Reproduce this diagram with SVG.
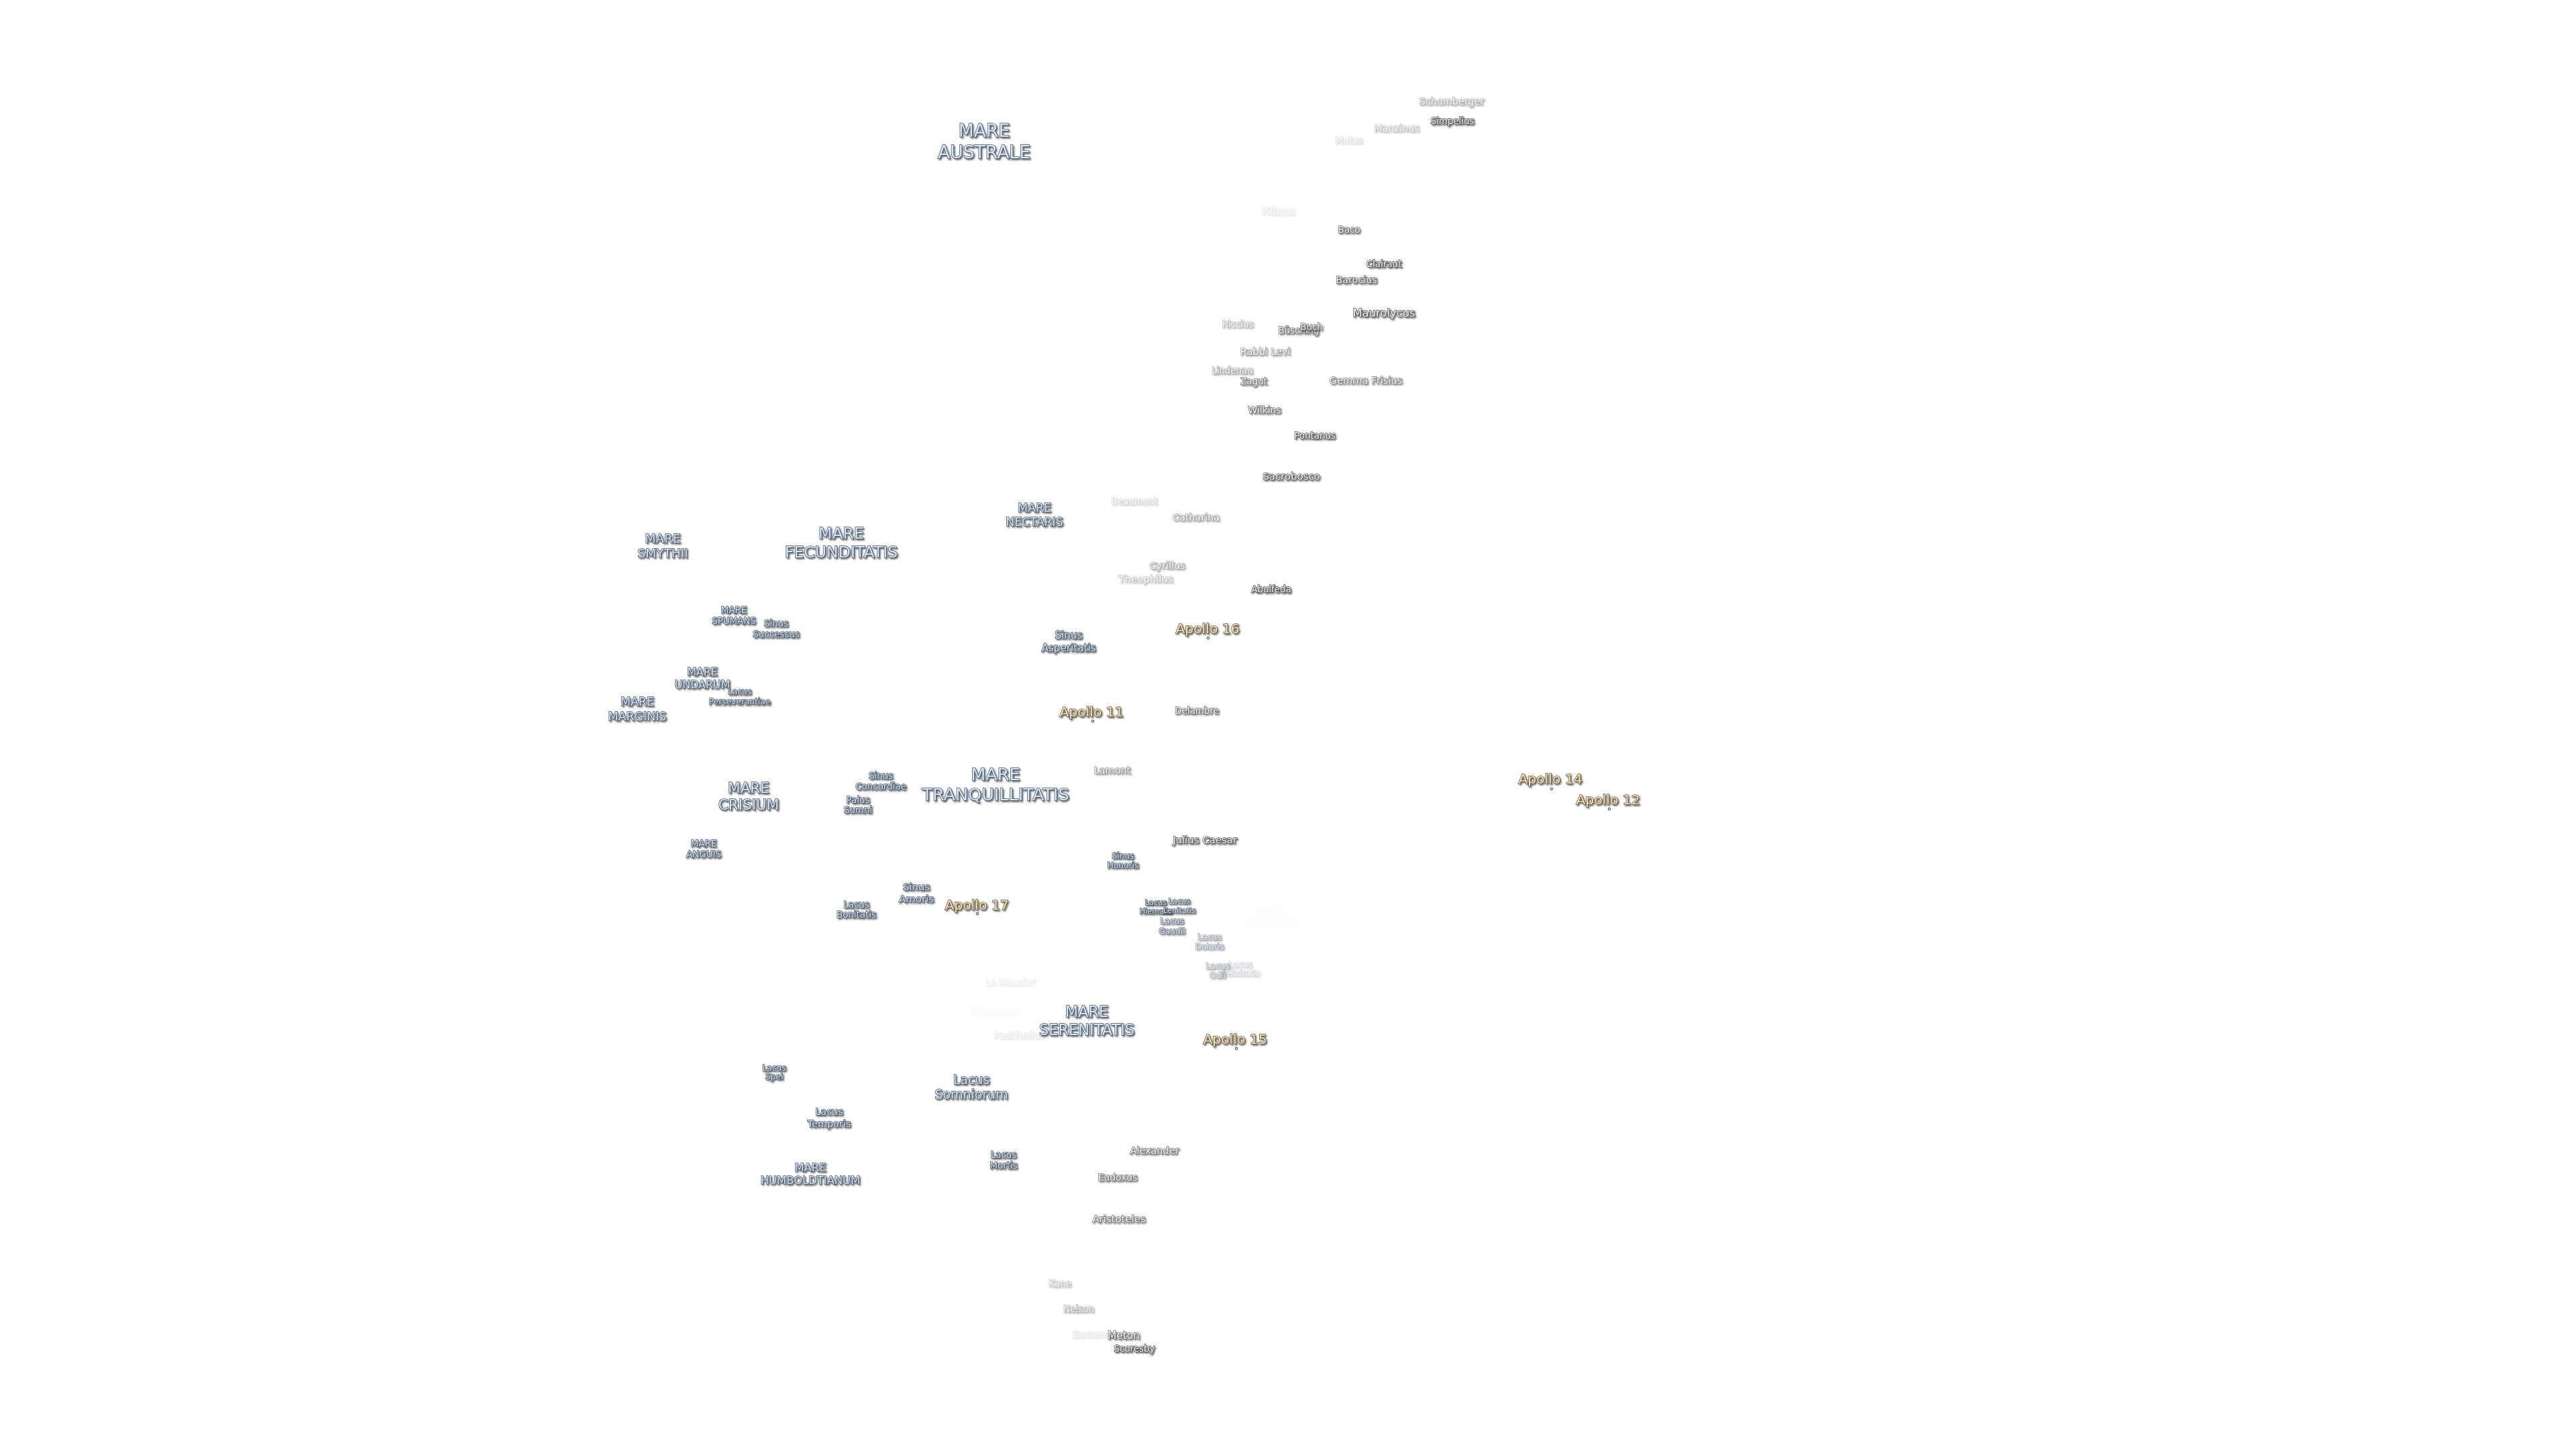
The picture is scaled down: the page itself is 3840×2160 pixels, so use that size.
<svg xmlns="http://www.w3.org/2000/svg" width="3840" height="2160" viewBox="0 0 3840 2160">
<style>
text{font-family:"DejaVu Sans","Liberation Sans",sans-serif;text-anchor:middle;paint-order:stroke;stroke-width:1.5;stroke-linejoin:miter;filter:url(#sh)}
.m{fill:#d2e8fe;stroke:#47505c}
.c{fill:#fff;stroke:#484848}
.a{fill:#ffe5b2;stroke:#575040}
.d{fill:#ffe3ad;stroke:#444;stroke-width:1}
</style>
<defs><filter id="sh" x="-15%" y="-15%" width="130%" height="140%"><feGaussianBlur in="SourceGraphic" stdDeviation="0.45" result="b"/><feDropShadow in="b" dx="1.8" dy="2" stdDeviation="1" flood-color="#2a2a2a" flood-opacity="0.7"/></filter></defs>
<rect width="3840" height="2160" fill="#fff"/>
<g transform="translate(0,-1)">
<g id="craters">
<g id="schomberger"><text class="c" x="2164" y="157" font-size="14.4" opacity="0.48">Schomberger</text></g>
<g id="simpelius"><text class="c" x="2165" y="186" font-size="13.4">Simpelius</text></g>
<g id="manzinus"><text class="c" x="2082" y="197" font-size="14.4" opacity="0.35">Manzinus</text></g>
<g id="mutus"><text class="c" x="2011" y="215" font-size="13.4" opacity="0.18">Mutus</text></g>
<g id="pitiscus"><text class="c" x="1906" y="321" font-size="13.4" opacity="0.13">Pitiscus</text></g>
<g id="baco"><text class="c" x="2011" y="348" font-size="13.4" opacity="0.88">Baco</text></g>
<g id="clairaut"><text class="c" x="2063" y="399" font-size="13.4">Clairaut</text></g>
<g id="barocius"><text class="c" x="2022" y="423" font-size="14.4" opacity="0.92">Barocius</text></g>
<g id="maurolycus"><text class="c" x="2063" y="473" font-size="16.4">Maurolycus</text></g>
<g id="riccius"><text class="c" x="1845" y="489" font-size="13.4" opacity="0.4">Riccius</text></g>
<g id="busching"><text class="c" x="1936" y="498" font-size="13.4" opacity="0.8">Büsching</text></g>
<g id="buch"><text class="c" x="1955" y="493" font-size="13.4" opacity="0.8">Buch</text></g>
<g id="rabbi-levi"><text class="c" x="1886" y="530" font-size="14.4" opacity="0.57">Rabbi Levi</text></g>
<g id="lindenau"><text class="c" x="1837" y="558" font-size="13.4" opacity="0.5">Lindenau</text></g>
<g id="zagut"><text class="c" x="1869" y="574" font-size="13.4" opacity="0.78">Zagut</text></g>
<g id="gemma-frisius"><text class="c" x="2036" y="573" font-size="14.7" opacity="0.72">Gemma Frisius</text></g>
<g id="wilkins"><text class="c" x="1885" y="617" font-size="13.9" opacity="0.82">Wilkins</text></g>
<g id="pontanus"><text class="c" x="1960" y="655" font-size="13.4" opacity="0.97">Pontanus</text></g>
<g id="sacrobosco"><text class="c" x="1925" y="716" font-size="14.9" opacity="0.97">Sacrobosco</text></g>
<g id="beaumont"><text class="c" x="1691" y="753" font-size="13.4" opacity="0.23">Beaumont</text></g>
<g id="catharina"><text class="c" x="1783" y="777" font-size="14.4" opacity="0.52">Catharina</text></g>
<g id="cyrillus"><text class="c" x="1740" y="849" font-size="14.4" opacity="0.52">Cyrillus</text></g>
<g id="theophilus"><text class="c" x="1708" y="869" font-size="14.9" opacity="0.35">Theophilus</text></g>
<g id="abulfeda"><text class="c" x="1895" y="884" font-size="13.4">Abulfeda</text></g>
<g id="delambre"><text class="c" x="1784" y="1065" font-size="13.4" opacity="0.82">Delambre</text></g>
<g id="lamont"><text class="c" x="1658" y="1154" font-size="14.4" opacity="0.62">Lamont</text></g>
<g id="julius-caesar"><text class="c" x="1796" y="1258" font-size="14.9" opacity="0.97">Julius Caesar</text></g>
<g id="le-monnier"><text class="c" x="1506" y="1470" font-size="13.4" opacity="0.1">Le Monnier</text></g>
<g id="chacornac"><text class="c" x="1483" y="1513" font-size="13.4" opacity="0.03">Chacornac</text></g>
<g id="posidonius"><text class="c" x="1519" y="1549" font-size="14.4" opacity="0.13">Posidonius</text></g>
<g id="alexander"><text class="c" x="1721" y="1721" font-size="14.4" opacity="0.78">Alexander</text></g>
<g id="eudoxus"><text class="c" x="1666" y="1761" font-size="13.9" opacity="0.82">Eudoxus</text></g>
<g id="aristoteles"><text class="c" x="1668" y="1823" font-size="14.9" opacity="0.78">Aristoteles</text></g>
<g id="kane"><text class="c" x="1580" y="1919" font-size="13.4" opacity="0.35">Kane</text></g>
<g id="nelson"><text class="c" x="1608" y="1957" font-size="13.4" opacity="0.46">Nelson</text></g>
<g id="euctemon"><text class="c" x="1632" y="1995" font-size="13.4" opacity="0.14">Euctemon</text></g>
<g id="meton"><text class="c" x="1675" y="1997" font-size="15.4" opacity="0.86">Meton</text></g>
<g id="scoresby"><text class="c" x="1691" y="2016" font-size="13.4">Scoresby</text></g>
</g>
<g id="maria">
<g id="mare-australe"><text class="m" font-size="26.6"><tspan x="1467" y="205">MARE</tspan><tspan x="1467" y="237">AUSTRALE</tspan></text></g>
<g id="mare-smythii"><text class="m" font-size="18.5"><tspan x="988" y="810">MARE</tspan><tspan x="988" y="832">SMYTHII</tspan></text></g>
<g id="mare-fecunditatis"><text class="m" font-size="23.6"><tspan x="1254" y="804">MARE</tspan><tspan x="1254" y="832">FECUNDITATIS</tspan></text></g>
<g id="mare-nectaris"><text class="m" font-size="17.4"><tspan x="1542" y="764">MARE</tspan><tspan x="1542" y="785">NECTARIS</tspan></text></g>
<g id="mare-spumans"><text class="m" font-size="13.4"><tspan x="1094" y="915">MARE</tspan><tspan x="1094" y="931">SPUMANS</tspan></text></g>
<g id="sinus-successus"><text class="m" font-size="13.4"><tspan x="1157" y="935">Sinus</tspan><tspan x="1157" y="951">Successus</tspan></text></g>
<g id="mare-undarum"><text class="m" font-size="15.9"><tspan x="1047" y="1008">MARE</tspan><tspan x="1047" y="1027">UNDARUM</tspan></text></g>
<g id="lacus-perseverantiae"><text class="m" font-size="12.2"><tspan x="1102.5" y="1036">Lacus</tspan><tspan x="1102.5" y="1051">Perseverantiae</tspan></text></g>
<g id="mare-marginis"><text class="m" font-size="17.4"><tspan x="950" y="1053">MARE</tspan><tspan x="950" y="1075">MARGINIS</tspan></text></g>
<g id="sinus-asperitatis"><text class="m" font-size="15.2"><tspan x="1593" y="953">Sinus</tspan><tspan x="1593" y="972">Asperitatis</tspan></text></g>
<g id="mare-tranquillitatis"><text class="m" font-size="25.5"><tspan x="1484" y="1164">MARE</tspan><tspan x="1484" y="1194">TRANQUILLITATIS</tspan></text></g>
<g id="mare-crisium"><text class="m" font-size="21.5"><tspan x="1116" y="1183">MARE</tspan><tspan x="1116" y="1208">CRISIUM</tspan></text></g>
<g id="sinus-concordiae"><text class="m" font-size="13.4"><tspan x="1313" y="1162">Sinus</tspan><tspan x="1313" y="1178">Concordiae</tspan></text></g>
<g id="palus-somni"><text class="m" font-size="13.4"><tspan x="1279" y="1198">Palus</tspan><tspan x="1279" y="1213">Somni</tspan></text></g>
<g id="mare-anguis"><text class="m" font-size="13.4"><tspan x="1049" y="1263">MARE</tspan><tspan x="1049" y="1279">ANGUIS</tspan></text></g>
<g id="lacus-bonitatis"><text class="m" font-size="13.4"><tspan x="1276.5" y="1354">Lacus</tspan><tspan x="1276.5" y="1369">Bonitatis</tspan></text></g>
<g id="sinus-amoris"><text class="m" font-size="14.9"><tspan x="1366" y="1328">Sinus</tspan><tspan x="1366" y="1346">Amoris</tspan></text></g>
<g id="sinus-honoris"><text class="m" font-size="12.2"><tspan x="1674" y="1281">Sinus</tspan><tspan x="1674" y="1295">Honoris</tspan></text></g>
<g id="lacus-hiemalis"><text class="m" font-size="11.3"><tspan x="1723" y="1350">Lacus</tspan><tspan x="1723" y="1363">Hiemalis</tspan></text></g>
<g id="lacus-lenitatis"><text class="m" font-size="11.3" opacity="0.88"><tspan x="1758" y="1348">Lacus</tspan><tspan x="1758" y="1362">Lenitatis</tspan></text></g>
<g id="lacus-gaudii"><text class="m" font-size="12.3" opacity="0.76"><tspan x="1747" y="1378">Lacus</tspan><tspan x="1747" y="1393">Gaudii</tspan></text></g>
<g id="lacus-doloris"><text class="m" font-size="12.3" opacity="0.52"><tspan x="1803" y="1402">Lacus</tspan><tspan x="1803" y="1416">Doloris</tspan></text></g>
<g id="lacus-felicitatis"><text class="m" font-size="12.3" opacity="0.23"><tspan x="1849" y="1443">Lacus</tspan><tspan x="1849" y="1456">Felicitatis</tspan></text></g>
<g id="lacus-odii"><text class="m" font-size="12.3" opacity="0.46"><tspan x="1815" y="1445">Lacus</tspan><tspan x="1815" y="1459">Odii</tspan></text></g>
<g id="mare-vaporum"><text class="m" font-size="15.4" opacity="0.012"><tspan x="1892" y="1363">MARE</tspan><tspan x="1892" y="1382">VAPORUM</tspan></text></g>
<g id="mare-serenitatis"><text class="m" font-size="22.5"><tspan x="1620" y="1517">MARE</tspan><tspan x="1620" y="1544">SERENITATIS</tspan></text></g>
<g id="lacus-somniorum"><text class="m" font-size="18.9"><tspan x="1448" y="1617">Lacus</tspan><tspan x="1448" y="1639">Somniorum</tspan></text></g>
<g id="lacus-spei"><text class="m" font-size="12.3"><tspan x="1154" y="1597">Lacus</tspan><tspan x="1154" y="1610">Spei</tspan></text></g>
<g id="lacus-temporis"><text class="m" font-size="14.4"><tspan x="1236" y="1663">Lacus</tspan><tspan x="1236" y="1681">Temporis</tspan></text></g>
<g id="mare-humboldtianum"><text class="m" font-size="16.4"><tspan x="1208" y="1747">MARE</tspan><tspan x="1208" y="1766">HUMBOLDTIANUM</tspan></text></g>
<g id="lacus-mortis"><text class="m" font-size="13.4"><tspan x="1496" y="1727">Lacus</tspan><tspan x="1496" y="1743">Mortis</tspan></text></g>
</g>
<g id="apollo">
<g id="apollo-16"><text class="a" x="1800" y="945" font-size="20.3">Apollo 16</text><circle class="d" cx="1801" cy="952" r="1.8"/></g>
<g id="apollo-11"><text class="a" x="1627" y="1069" font-size="20.3">Apollo 11</text><circle class="d" cx="1629" cy="1076" r="1.8"/></g>
<g id="apollo-17"><text class="a" x="1456" y="1357" font-size="20.3">Apollo 17</text><circle class="d" cx="1457" cy="1363" r="1.8"/></g>
<g id="apollo-15"><text class="a" x="1841" y="1557" font-size="20.3">Apollo 15</text><circle class="d" cx="1843" cy="1564" r="1.8"/></g>
<g id="apollo-14"><text class="a" x="2311" y="1169" font-size="20.3">Apollo 14</text><circle class="d" cx="2313" cy="1177" r="1.8"/></g>
<g id="apollo-12"><text class="a" x="2397" y="1200" font-size="20.3">Apollo 12</text><circle class="d" cx="2399" cy="1207" r="1.8"/></g>
</g>
</g>
</svg>
